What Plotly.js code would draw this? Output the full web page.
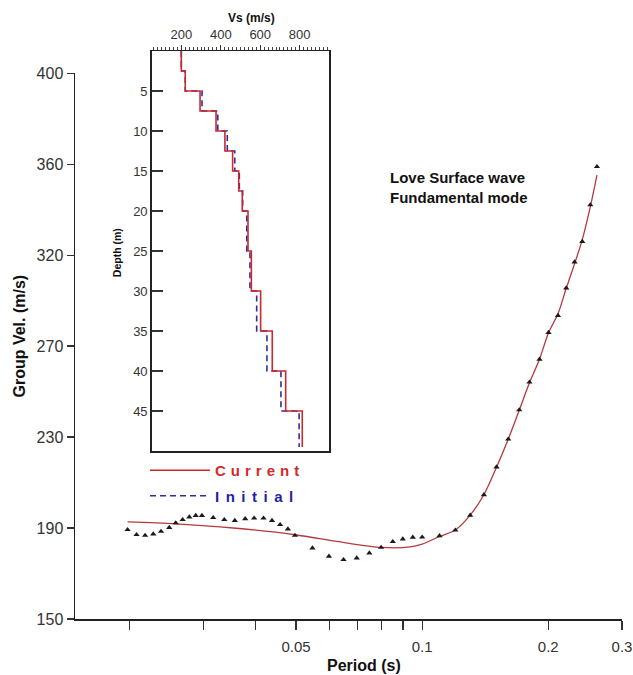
<!DOCTYPE html>
<html>
<head>
<meta charset="utf-8">
<script src="https://cdn.plot.ly/plotly-3.0.1.min.js"></script>
<style>html,body{margin:0;padding:0;background:#fff;}#chart{width:633px;height:675px;}</style>
</head>
<body>
<div id="chart"></div>
<script>
// ---- Dispersion data (Love wave, fundamental mode) ----
const periodObs = [0.0198,0.0208,0.0218,0.0228,0.0238,0.0249,0.0258,0.0268,0.0278,0.0288,0.0298,0.0317,0.0337,0.0357,0.0378,0.0397,0.0418,0.0438,0.0458,0.0478,0.0497,0.0547,0.0599,0.0649,0.0698,0.0748,0.0798,0.0851,0.0899,0.0950,0.1000,0.1100,0.1200,0.1302,0.1404,0.1505,0.1605,0.1705,0.1804,0.1906,0.2003,0.2110,0.2208,0.2311,0.2411,0.2520,0.2614];
const velObs    = [190.9,188.6,188.3,188.9,190.1,191.9,194.0,195.5,196.7,197.4,197.4,196.4,195.5,195.1,195.9,196.2,196.2,195.1,193.2,191.2,188.3,182.5,178.7,177.2,177.9,180.2,182.8,185.4,186.6,187.4,187.5,188.1,190.7,197.5,206.9,219.6,232.4,245.8,258.5,269.0,281.2,289.0,301.6,313.5,322.9,339.7,357.2];
const periodFit = [0.0198,0.0258,0.0354,0.0497,0.0637,0.0798,0.0936,0.1000,0.1100,0.1200,0.1302,0.1404,0.1505,0.1605,0.1705,0.1804,0.1906,0.2003,0.2110,0.2208,0.2311,0.2411,0.2520,0.2614];
const velFit    = [194.5,193.6,191.7,188.6,185.3,182.8,183.0,184.3,187.8,190.8,197.6,206.9,219.5,232.3,245.6,258.2,269.0,281.1,289.8,301.5,312.7,323.7,338.8,353.4];

// ---- Shear-wave velocity profiles ----
const layerBottom   = [2.5, 5, 7.5, 10, 12.5, 15, 17.5, 20, 25, 30, 35, 40, 45, 49.5];
const vsCurrent     = [200, 220, 295, 376, 421, 460, 491, 509, 538, 555, 602, 661, 729, 813];
const vsInitial     = [200, 220, 305, 385, 433, 471, 494, 511, 532, 548, 582, 634, 705, 797];

// ---- Tick labels ----
const velTickText   = ['150','190','230','270','320','360','400'];
const periodTicks   = [0.02,0.03,0.04,0.05,0.06,0.07,0.08,0.09,0.1,0.2,0.3];
const periodLabels  = ['','','','0.05','','','','','0.1','0.2','0.3'];
const depthTicks    = [5,10,15,20,25,30,35,40,45];

function stepProfile(vs, bottoms){
  const x = [], y = [];
  let top = 0;
  for (let i = 0; i < vs.length; i++){
    x.push(vs[i], vs[i]);
    y.push(top, bottoms[i]);
    top = bottoms[i];
  }
  return {x, y};
}

const FONT = 'Arial, "Liberation Sans", sans-serif';
const velRange = [150, 400];
const velTickVals = velTickText.map((_, i) => velRange[0] + i * (velRange[1] - velRange[0]) / (velTickText.length - 1));

const cur = stepProfile(vsCurrent, layerBottom);
const ini = stepProfile(vsInitial, layerBottom);

const traces = [
  {x: periodFit, y: velFit, type: 'scatter', mode: 'lines', line: {color: '#b8383b', width: 1.3, shape: 'spline', smoothing: 0.8}, showlegend: false, hoverinfo: 'skip'},
  {x: periodObs, y: velObs, type: 'scatter', mode: 'markers', marker: {symbol: 'triangle-up', size: 5.5, color: '#1a1a1a'}, showlegend: false},
  {x: ini.x, y: ini.y, xaxis: 'x2', yaxis: 'y2', type: 'scatter', mode: 'lines', line: {color: '#2e2e9c', width: 1.6, dash: '6px,4px'},
   name: '<span style="color:#1f1fa8;letter-spacing:6.5px"><b>Initial</b></span>', legendgroup: 'b', legendrank: 2},
  {x: cur.x, y: cur.y, xaxis: 'x2', yaxis: 'y2', type: 'scatter', mode: 'lines', line: {color: '#c9282d', width: 1.6},
   name: '<span style="color:#d42a2a;letter-spacing:5px"><b>Current</b></span>', legendgroup: 'a', legendrank: 1}
];

const W = 547, H = 568, L = 75, T = 51;
const px = v => (v - L) / W;
const py = v => (T + H - v) / H;

const layout = {
  width: 633, height: 675,
  margin: {l: L, r: 633 - L - W, t: T, b: 675 - T - H},
  paper_bgcolor: '#fff', plot_bgcolor: 'rgba(0,0,0,0)',
  font: {family: FONT, color: '#222'},
  showlegend: true,
  legend: {x: px(145), xanchor: 'left', y: py(454), yanchor: 'top', bgcolor: 'rgba(0,0,0,0)',
           font: {size: 15, family: FONT}, itemwidth: 60, traceorder: 'grouped', tracegroupgap: 3},
  xaxis: {type: 'log', range: [Math.log10(0.01483), Math.log10(0.3)], domain: [0, 1],
          showline: true, linecolor: '#222', linewidth: 1.5, mirror: false,
          ticks: 'outside', ticklen: 9, tickwidth: 1.3, tickcolor: '#333',
          tickmode: 'array', tickvals: periodTicks, ticktext: periodLabels,
          tickfont: {size: 15, color: '#333'}, ticklabelstandoff: 4,
          showgrid: false, zeroline: false},
  yaxis: {range: velRange, domain: [0, py(73.3)],
          showline: true, linecolor: '#222', linewidth: 1.5,
          ticks: 'outside', ticklen: 7, tickwidth: 1.3, tickcolor: '#333',
          tickmode: 'array', tickvals: velTickVals, ticktext: velTickText,
          tickfont: {size: 16, color: '#333'}, showgrid: false, zeroline: false},
  xaxis2: {anchor: 'y2', side: 'top', range: [50, 950], domain: [px(151.7), px(329.3)],
           showline: true, mirror: true, linecolor: '#222', linewidth: 1.5,
           ticks: 'outside', ticklen: 5, tickwidth: 1, tickcolor: '#333',
           tickmode: 'linear', tick0: 0, dtick: 200,
           minor: {tickmode: 'linear', tick0: 0, dtick: 20, ticklen: 3, tickcolor: '#444', ticks: 'outside'},
           tickfont: {size: 13, color: '#333'}, showgrid: false, zeroline: false},
  yaxis2: {anchor: 'x2', range: [50, 0], domain: [py(451), 1],
           showline: true, mirror: true, linecolor: '#222', linewidth: 1.5,
           ticks: 'inside', ticklen: 11, tickwidth: 1.3, tickcolor: '#333',
           tickmode: 'array', tickvals: depthTicks,
           tickfont: {size: 13, color: '#333'}, showgrid: false, zeroline: false},
  annotations: [
    {text: '<b>Group Vel. (m/s)</b>', xref: 'paper', yref: 'paper', x: px(18.5), y: py(336), textangle: -90,
     showarrow: false, xanchor: 'center', yanchor: 'middle', font: {size: 16, color: '#111'}},
    {text: '<b>Period (s)</b>', xref: 'paper', yref: 'paper', x: px(364), y: py(665),
     showarrow: false, xanchor: 'center', yanchor: 'middle', font: {size: 16, color: '#111'}},
    {text: '<b>Love Surface wave<br>Fundamental mode</b>', xref: 'paper', yref: 'paper', x: px(388), y: py(187),
     showarrow: false, xanchor: 'left', yanchor: 'middle', align: 'left', font: {size: 15, color: '#111'}},
    {text: '<b>Vs (m/s)</b>', xref: 'paper', yref: 'paper', x: px(251.3), y: py(18.3),
     showarrow: false, xanchor: 'center', yanchor: 'middle', font: {size: 12, color: '#111'}},
    {text: '<b>Depth (m)</b>', xref: 'paper', yref: 'paper', x: px(116.7), y: py(252.5), textangle: -90,
     showarrow: false, xanchor: 'center', yanchor: 'middle', font: {size: 10.5, color: '#111'}}
  ]
};

Plotly.newPlot('chart', traces, layout, {displayModeBar: false, staticPlot: true});
</script>
</body>
</html>
